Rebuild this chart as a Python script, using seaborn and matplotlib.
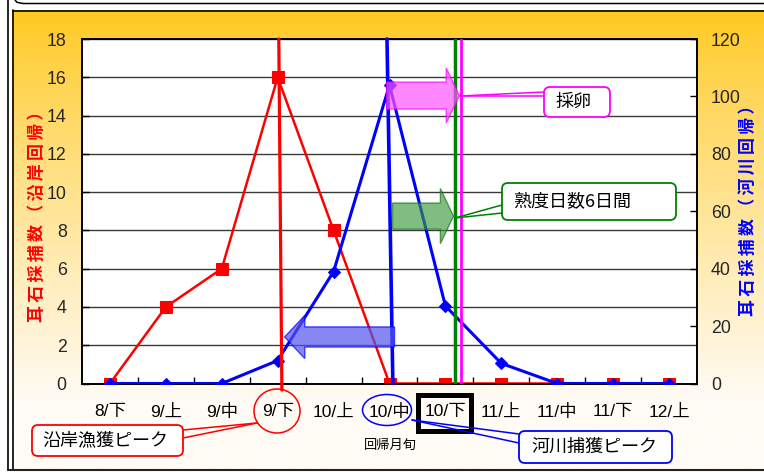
import numpy as np
import pandas as pd
import matplotlib
matplotlib.use("Agg")
import matplotlib.pyplot as plt
import seaborn as sns
from matplotlib import font_manager as fm
from matplotlib.patches import FancyArrow, FancyBboxPatch, Ellipse, Rectangle

# ---- data -------------------------------------------------------------
periods = ["8/下", "9/上", "9/中", "9/下", "10/上", "10/中", "10/下",
           "11/上", "11/中", "11/下", "12/上"]
coastal = [0, 4, 6, 16, 8, 0, 0, 0, 0, 0, 0]        # left axis (沿岸回帰)
river = [0, 0, 0, 8, 39, 104, 27, 7, 0, 0, 0]        # right axis (河川回帰)
left_ticks = list(range(0, 19, 2))
right_ticks = list(range(0, 121, 20))
left_title = "耳石採捕数（沿岸回帰）"
right_title = "耳石採捕数（河川回帰）"

df = pd.DataFrame({"period": periods, "idx": range(len(periods)),
                   "coastal": coastal, "river": river})

# ---- fonts --------------------------------------------------------------
sns.set_theme(style="white")
installed = {f.name for f in fm.fontManager.ttflist}
NUM_FONT = "Liberation Sans Narrow" if "Liberation Sans Narrow" in installed else "Liberation Sans"
JP_FONT = "Noto Sans CJK JP"
plt.rcParams["font.family"] = [NUM_FONT, JP_FONT, "DejaVu Sans"]
plt.rcParams["axes.unicode_minus"] = False

W, H = 764, 472
fig = plt.figure(figsize=(W / 100, H / 100), dpi=100)


def rect_px(x0, y0, x1, y1):
    return [x0 / W, 1 - y1 / H, (x1 - x0) / W, (y1 - y0) / H]


# ---- chart area background (gold gradient + frame) -----------------------
bg = fig.add_axes([0, 0, 1, 1], zorder=-2)
t = np.clip(np.linspace(0, 1, 300) / 0.85, 0, 1) ** 0.85
top_c = np.array([255, 200, 30]) / 255
bot_c = np.array([255, 251, 245]) / 255
grad = top_c[None, :] * (1 - t[:, None]) + bot_c[None, :] * t[:, None]
bg.imshow(grad[:, None, :], extent=(12, W, 469, 10), aspect="auto",
          interpolation="bilinear")
bg.plot([7.5, 7.5], [0, 470], color="black", lw=1.2)
bg.plot([12.5, 12.5], [10, 469], color="black", lw=1.2)
bg.plot([12.5, W], [10.5, 10.5], color="black", lw=1.2)
bg.plot([7.5, W], [469.5, 469.5], color="#222222", lw=1.5)
bg.plot([15, 17, 23, W], [0, 2.3, 3.5, 3.5], color="black", lw=1.1)
bg.set_xlim(0, W)
bg.set_ylim(H, 0)
bg.axis("off")

# ---- main plot ------------------------------------------------------------
ax = fig.add_axes(rect_px(82, 39, 697, 383.5))
ax.set_facecolor("white")
sns.lineplot(data=df, x="idx", y="coastal", ax=ax, color="#ff0000",
             marker="s", markersize=8, markeredgecolor="#ff0000",
             linewidth=1.8, zorder=3)

ax2 = ax.twinx()
sns.lineplot(data=df, x="idx", y="river", ax=ax2, color="#0000ff",
             marker="D", markersize=6.2, markeredgecolor="#0000ff",
             linewidth=2.2, zorder=3)

ax.set_xlim(-0.5, len(periods) - 0.5)
ax.set_ylim(0, 18)
ax2.set_ylim(0, 120)
ax.set_yticks(left_ticks)
ax2.set_yticks(right_ticks)
ax.set_xticks(range(len(periods)))
ax.set_xticklabels(periods)
ax.set_xticks(np.arange(0.5, len(periods) - 1, 1), minor=True)
ax.set_xlabel("")
ax.set_ylabel("")
ax2.set_ylabel("")

ax.tick_params(axis="x", which="major", length=0, pad=15, labelsize=12.5,
               labelcolor="black")
ax.tick_params(axis="x", which="minor", direction="in", length=5, width=1,
               color="black", bottom=True)
ax.tick_params(axis="y", direction="in", length=5, width=1, pad=11,
               labelsize=12.8, color="black", left=True)
ax2.tick_params(axis="y", direction="in", length=5, width=1, pad=10,
                labelsize=12.8, color="black", right=True)
for lab in ax.get_xticklabels():
    lab.set_family([NUM_FONT, JP_FONT])

ax.yaxis.grid(True, color="#3a3a3a", lw=1)
ax.xaxis.grid(False)
ax.set_axisbelow(True)
for a in (ax, ax2):
    for s in a.spines.values():
        s.set_visible(True)
        s.set_color("black")
        s.set_linewidth(1.2)

# ---- vertical marker lines (drawn on the river axis) -----------------------
ax2.plot([3.02, 3.075], [120, -2.3], color="#ff0000", lw=2.3, clip_on=False, zorder=5)
ax2.plot([4.955, 5.06], [120, 0], color="#0000ff", lw=2.6, clip_on=False, zorder=5)
ax2.plot([6.17, 6.17], [120, 0], color="#008000", lw=2.5, zorder=5)
ax2.plot([6.27, 6.27], [120, 0], color="#ff00ff", lw=2.0, zorder=5)

# ---- block arrows -----------------------------------------------------------
ax2.add_patch(FancyArrow(4.95, 100.3, 6.25 - 4.95, 0, width=9.4, head_width=19.2,
                         head_length=0.235, length_includes_head=True,
                         facecolor="#ff55ff", alpha=0.7, edgecolor="#ff00ff",
                         lw=1, zorder=6))
ax2.add_patch(FancyArrow(5.055, 58.3, 6.145 - 5.055, 0, width=9.1, head_width=19.2,
                         head_length=0.235, length_includes_head=True,
                         facecolor="#3c9a3c", alpha=0.65, edgecolor="#107010",
                         lw=1, zorder=6))
ax2.add_patch(FancyArrow(5.09, 16.2, 3.125 - 5.09, 0, width=7.0, head_width=15.0,
                         head_length=0.36, length_includes_head=True,
                         facecolor="#5555ee", alpha=0.7, edgecolor="#0000ff",
                         lw=1, zorder=6))

# ---- axis titles: rotated, letter-spaced with thin spaces ---------------------
THIN = "\u2009"
for x, yc, text, color in [(37, 212, left_title, "#ff0000"),
                           (748, 206, right_title, "#0000ff")]:
    fig.text(x / W, 1 - yc / H, THIN.join(text), rotation=90, ha="center",
             va="center", color=color, fontsize=12.2,
             family=[JP_FONT, "DejaVu Sans"], fontweight="bold")

# ---- callouts (figure pixel space) -----------------------------------------------
ov = fig.add_axes([0, 0, 1, 1], zorder=10)
ov.set_xlim(0, W)
ov.set_ylim(H, 0)
ov.axis("off")
ov.patch.set_alpha(0)


def callout(x0, y0, x1, y1, text, edge, tip, base, tx=None, ha="center"):
    ov.add_patch(FancyBboxPatch((x0, y0), x1 - x0, y1 - y0,
                                boxstyle="round,pad=0,rounding_size=6",
                                facecolor="white", edgecolor=edge, lw=1.3, zorder=3))
    for bx, by in base:
        ov.plot([tip[0], bx], [tip[1], by], color=edge, lw=1.1, zorder=2)
    xx = (x0 + x1) / 2 if tx is None else tx
    ov.text(xx, (y0 + y1) / 2, text, ha=ha, va="center", fontsize=13,
            family=JP_FONT, color="black", zorder=4)


callout(544, 87, 610, 117, "採卵", "#ff00ff", (460, 96), [(544, 92), (544, 96)], tx=574)
callout(502, 183, 676, 220, "熟度日数6日間", "#008000", (455, 218),
        [(502, 205), (502, 213)], tx=513, ha="left")
callout(32, 425, 183, 456, "沿岸漁獲ピーク", "#ff0000", (257, 423),
        [(183, 430), (183, 438)], tx=105)
callout(519, 431, 672, 463, "河川捕獲ピーク", "#0000ff", (412, 420),
        [(519, 434), (519, 443)], tx=594)

ov.add_patch(Ellipse((277, 411), 46, 44, fill=False, edgecolor="#ff0000", lw=1.1))
ov.add_patch(Ellipse((387, 410), 49, 31, fill=False, edgecolor="#0000ff", lw=1.1))
ov.add_patch(Rectangle((418, 394.5), 53, 36, fill=False, edgecolor="black", lw=3.6))
ov.text(390, 445, "回帰月旬", ha="center", va="center", fontsize=9.5,
        family=JP_FONT, color="black")

fig.savefig("out.png", dpi=100)
